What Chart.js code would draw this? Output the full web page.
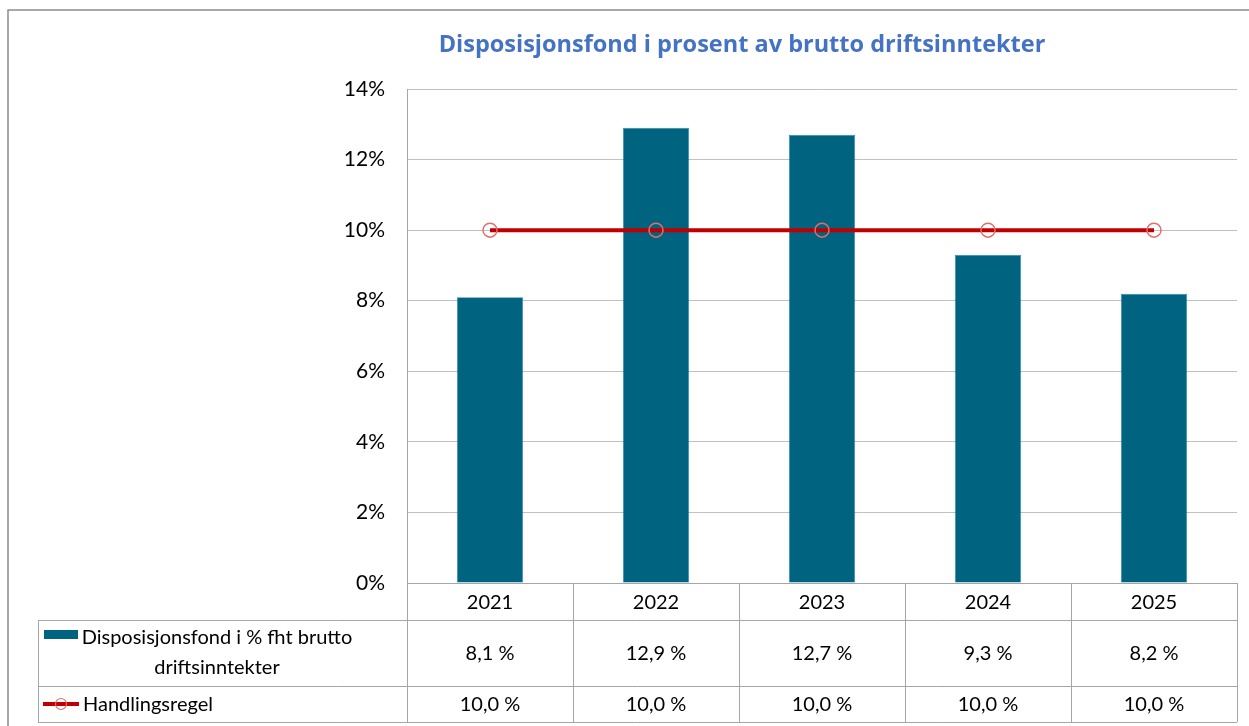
<!DOCTYPE html>
<html>
<head>
<meta charset="utf-8">
<script src="https://cdn.jsdelivr.net/npm/chart.js@4"></script>
<style>
  body { margin: 0; background: #fff; }
  canvas { display: block; }
</style>
</head>
<body>
<canvas id="myChart" width="1249" height="726"></canvas>
<script>
const years = ["2021", "2022", "2023", "2024", "2025"];
const fondVerdier = [8.1, 12.9, 12.7, 9.3, 8.2];
const regelVerdier = [10.0, 10.0, 10.0, 10.0, 10.0];
const fondNavn = ["Disposisjonsfond i % fht brutto", "driftsinntekter"];
const regelNavn = "Handlingsregel";
const tittel = "Disposisjonsfond i prosent av brutto driftsinntekter";

const fontNavn = "Lato, 'Open Sans', sans-serif";
const blaa = "#006480";
const rod = "#C00000";
const strek = "#a6a6a6";

function prosent(v) {
    return v.toFixed(1).replace(".", ",") + " %";
}

// ramme, tittel og datatabell under grafen
const tabellPlugin = {
    id: "tabellPlugin",
    beforeDraw(chart) {
        const c = chart.ctx;
        c.save();
        c.fillStyle = "#fff";
        c.fillRect(0, 0, chart.width, chart.height);
        c.strokeStyle = "#8c8c8c";
        c.lineWidth = 1.5;
        c.beginPath();
        c.moveTo(8, 726);
        c.lineTo(8, 10);
        c.lineTo(1249, 10);
        c.stroke();
        c.restore();
    },
    afterDraw(chart) {
        const c = chart.ctx;
        const area = chart.chartArea;
        const x = chart.scales.x;
        const venstre = area.left;
        const hoyre = area.right;
        const bredde = (hoyre - venstre) / years.length;
        const y0 = area.bottom;
        const rad1 = y0 + 37;
        const rad2 = rad1 + 66;
        const rad3 = rad2 + 36;
        const tabVenstre = 38;

        c.save();
        // tittel
        c.fillStyle = "#4472C4";
        c.font = "bold 23.5px 'Open Sans', sans-serif";
        c.textAlign = "center";
        c.textBaseline = "middle";
        c.fillText(tittel, 742, 45);

        // linjer
        c.strokeStyle = strek;
        c.lineWidth = 1;
        c.beginPath();
        c.moveTo(venstre, y0 + 0.5);
        c.lineTo(hoyre, y0 + 0.5);
        [rad1, rad2, rad3].forEach(r => {
            c.moveTo(tabVenstre, r + 0.5);
            c.lineTo(hoyre, r + 0.5);
        });
        for (let i = 0; i <= years.length; i++) {
            const px = Math.round(venstre + i * bredde) + 0.5;
            c.moveTo(px, i === 0 ? area.top : y0);
            c.lineTo(px, rad3);
        }
        c.moveTo(tabVenstre + 0.5, rad1);
        c.lineTo(tabVenstre + 0.5, rad3);
        c.stroke();

        // tekst
        c.fillStyle = "#000";
        c.font = "20px " + fontNavn;
        c.textAlign = "center";
        c.textBaseline = "middle";
        years.forEach((aar, i) => {
            const cx = x.getPixelForValue(i);
            c.fillText(aar, cx, (y0 + rad1) / 2 + 1);
            c.fillText(prosent(fondVerdier[i]), cx, (rad1 + rad2) / 2 + 1);
            c.fillText(prosent(regelVerdier[i]), cx, (rad2 + rad3) / 2 + 1);
        });

        // forklaringer
        c.fillStyle = blaa;
        c.fillRect(44, rad1 + 10, 34, 9);
        c.fillStyle = "#000";
        c.fillText(fondNavn[0], 217, rad1 + 18);
        c.fillText(fondNavn[1], 217, rad1 + 48);

        const ly = (rad2 + rad3) / 2;
        c.strokeStyle = rod;
        c.lineWidth = 4;
        c.beginPath();
        c.moveTo(43, ly);
        c.lineTo(79, ly);
        c.stroke();
        c.strokeStyle = "#e46c6c";
        c.lineWidth = 1.2;
        c.beginPath();
        c.arc(61, ly, 5.5, 0, Math.PI * 2);
        c.stroke();
        c.textAlign = "left";
        c.fillText(regelNavn, 83, ly + 1);
        c.restore();
    }
};

const config = {
    data: {
        labels: years,
        datasets: [{
            type: "line",
            label: regelNavn,
            data: regelVerdier,
            borderColor: rod,
            borderWidth: 4,
            pointStyle: "circle",
            pointRadius: 7,
            pointBorderWidth: 1.5,
            pointBorderColor: "#e46c6c",
            pointBackgroundColor: "rgba(0,0,0,0)",
            fill: false,
            order: 0
        }, {
            type: "bar",
            label: fondNavn.join(" "),
            data: fondVerdier,
            backgroundColor: blaa,
            borderColor: "#3a8aa3",
            borderWidth: 0.8,
            barPercentage: 0.4,
            categoryPercentage: 1,
            order: 1
        }]
    },
    options: {
        responsive: false,
        animation: false,
        layout: {
            padding: { top: 89, bottom: 143, left: 0, right: 12 }
        },
        plugins: {
            legend: { display: false },
            tooltip: { enabled: false }
        },
        scales: {
            x: { display: false },
            y: {
                min: 0,
                max: 14,
                ticks: {
                    stepSize: 2,
                    color: "#000",
                    font: { size: 21, family: fontNavn },
                    padding: 22,
                    callback: v => v + "%"
                },
                grid: { color: "#c0c0c0", drawTicks: false },
                border: { color: strek },
                afterFit(s) { s.width = 407; }
            }
        }
    },
    plugins: [tabellPlugin]
};

new Chart(document.getElementById("myChart"), config);
</script>
</body>
</html>
